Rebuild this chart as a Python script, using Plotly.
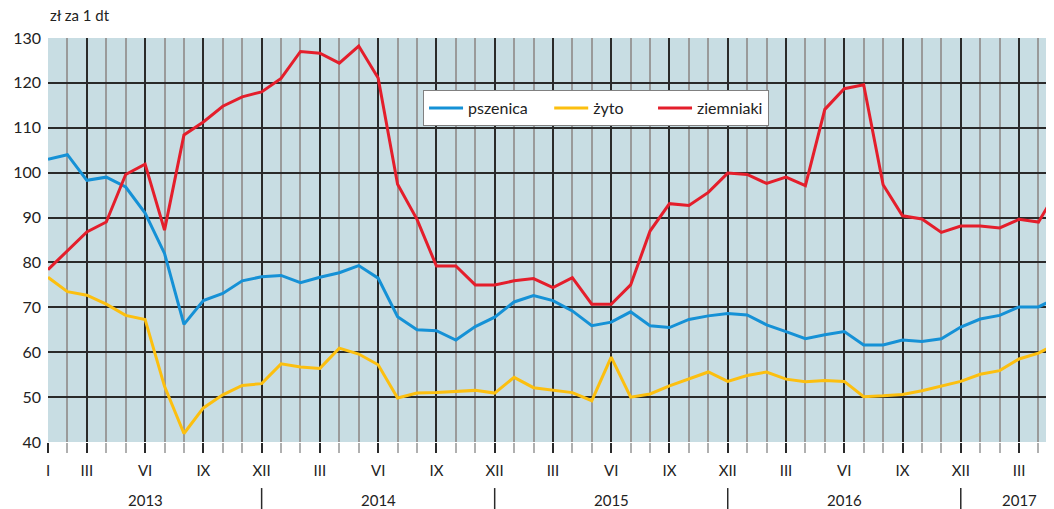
import plotly.graph_objects as go

# months from I 2013 to V 2017, as index 0..52
months = list(range(53))

pszenica = [103.0, 104.0, 98.3, 99.0, 96.8, 91.0, 82.0, 66.2, 71.5, 73.1, 75.9, 76.8,
            77.1, 75.5, 76.7, 77.7, 79.3, 76.5, 67.9, 65.0, 64.8, 62.7, 65.7, 67.8,
            71.2, 72.6, 71.5, 69.2, 65.9, 66.7, 69.0, 65.9, 65.5, 67.3, 68.1, 68.6,
            68.3, 66.1, 64.6, 63.0, 63.9, 64.6, 61.6, 61.6, 62.7, 62.4, 63.0, 65.6,
            67.4, 68.2, 70.1, 70.1, 72.2]
zyto = [76.7, 73.5, 72.7, 70.7, 68.2, 67.3, 52.4, 41.9, 47.6, 50.5, 52.6, 53.0,
        57.4, 56.7, 56.4, 60.9, 59.6, 57.2, 49.8, 50.9, 51.0, 51.3, 51.5, 50.9,
        54.4, 52.1, 51.5, 51.0, 49.2, 58.9, 50.0, 50.7, 52.5, 54.1, 55.6, 53.5,
        54.8, 55.6, 54.0, 53.4, 53.7, 53.5, 50.1, 50.3, 50.6, 51.4, 52.4, 53.5,
        55.1, 55.9, 58.5, 59.8, 62.0]
ziemniaki = [78.4, 82.6, 86.8, 89.0, 99.6, 101.9, 87.2, 108.4, 111.3, 114.8, 116.9, 118.0,
             121.0, 127.0, 126.6, 124.4, 128.2, 121.1, 97.4, 89.6, 79.2, 79.2, 75.0, 75.0,
             75.9, 76.4, 74.4, 76.6, 70.7, 70.7, 75.0, 87.0, 93.1, 92.7, 95.6, 99.9,
             99.6, 97.6, 99.0, 97.1, 114.1, 118.7, 119.6, 97.3, 90.4, 89.7, 86.7, 88.1,
             88.1, 87.7, 89.6, 89.0, 96.3]

tick_pos = [0, 2, 5, 8, 11, 14, 17, 20, 23, 26, 29, 32, 35, 38, 41, 44, 47, 50]
tick_text = ["I", "III", "VI", "IX", "XII", "III", "VI", "IX", "XII", "III", "VI", "IX",
             "XII", "III", "VI", "IX", "XII", "III"]
years = ["2013", "2014", "2015", "2016", "2017"]
year_pos = [5, 17, 29, 41, 50]
year_breaks = [11, 23, 35, 47]

font = "Lato, 'Open Sans', sans-serif"
x_max = 51.8
nb = "\u00a0"

fig = go.Figure()
fig.add_trace(go.Scatter(x=months, y=pszenica, name="pszenica" + nb * 4, mode="lines",
                         line=dict(color="#1591D6", width=3)))
fig.add_trace(go.Scatter(x=months, y=zyto, name="żyto" + nb * 6, mode="lines",
                         line=dict(color="#FCBF0F", width=3)))
fig.add_trace(go.Scatter(x=months, y=ziemniaki, name="ziemniaki", mode="lines",
                         line=dict(color="#E41E2B", width=3)))

fig.update_xaxes(
    range=[0, x_max],
    tickmode="array", tickvals=tick_pos, ticktext=tick_text,
    showgrid=True, gridcolor="#2a2a2a", gridwidth=1.5,
    ticks="outside", ticklen=10, tickwidth=1.5, tickcolor="#2a2a2a",
    ticklabelstandoff=5,
    minor=dict(dtick=1, tick0=0, showgrid=True, gridcolor="#9a9a9a", gridwidth=2,
               ticks="outside", ticklen=10, tickcolor="#b0b0b0", tickwidth=2),
    zeroline=False, showline=False,
    tickfont=dict(size=15, color="#222", family=font),
)
fig.update_yaxes(
    range=[40, 130], dtick=10,
    showgrid=True, gridcolor="#2a2a2a", gridwidth=1.5,
    zeroline=False, showline=False,
    ticklabelstandoff=6,
    tickfont=dict(size=16, color="#222", family=font),
)

# year labels and separators under the month ticks
for yr, p in zip(years, year_pos):
    fig.add_annotation(x=p, y=-0.1436, xref="x", yref="paper", text=yr, showarrow=False,
                       xanchor="center", yanchor="middle",
                       font=dict(size=15, color="#222", family=font))
for b in year_breaks:
    fig.add_shape(type="line", x0=b, x1=b, y0=-0.114, y1=-0.17, xref="x", yref="paper",
                  line=dict(color="#2a2a2a", width=1.5))
# last, cut-off month label
fig.add_annotation(x=(52 / x_max), y=-0.069, xref="paper", yref="paper", text="V", showarrow=False,
                   xanchor="center", yanchor="middle",
                   font=dict(size=15, color="#222", family=font))

fig.add_annotation(x=0, y=1.03, xref="paper", yref="paper", xanchor="left", yanchor="bottom",
                   text="zł za 1 dt", showarrow=False, font=dict(size=15, color="#222", family=font))

# the page body has an 8px margin, so the figure is made 8px smaller
fig.update_layout(
    width=1046, height=501,
    margin=dict(l=40, r=0, t=30, b=67),
    plot_bgcolor="#C8DDE3", paper_bgcolor="white",
    font=dict(family=font, color="#222"),
    legend=dict(orientation="h", x=0.3728, y=0.871, xanchor="left", yanchor="top",
                bgcolor="white", bordercolor="#808080", borderwidth=1,
                font=dict(size=16, color="#222", family=font), itemwidth=34),
)

fig.write_html("out.html")
